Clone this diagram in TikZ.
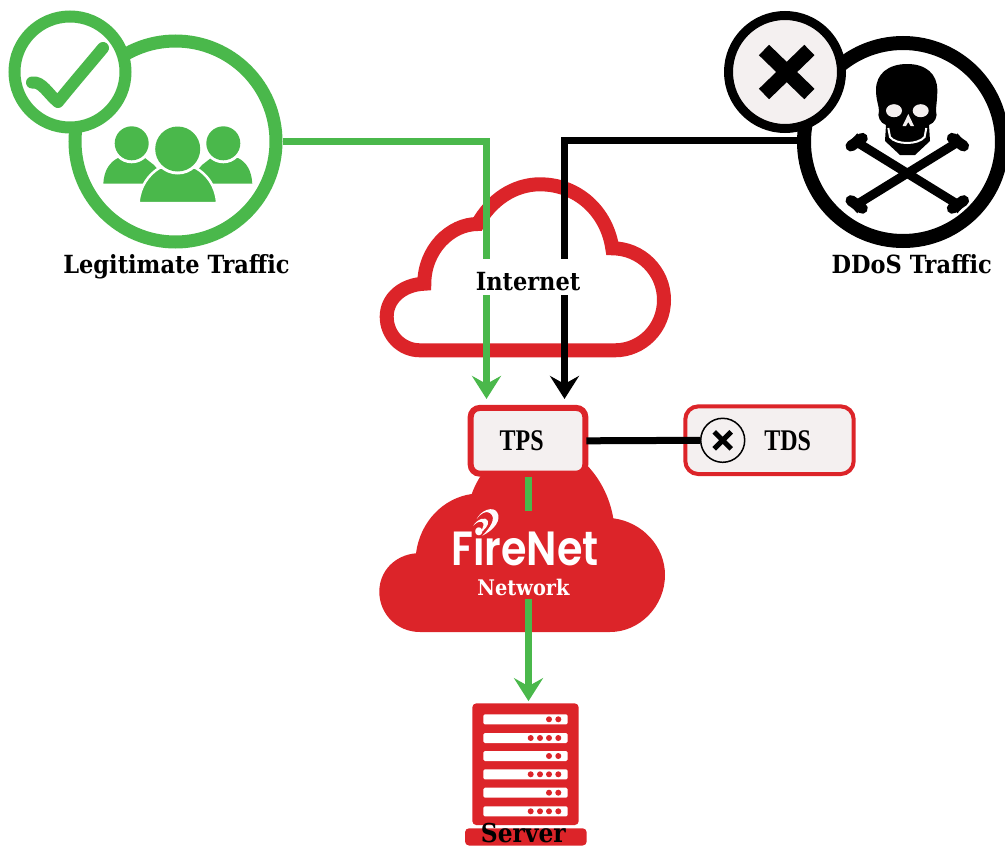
\documentclass[tikz,border=0pt]{standalone}
\usepackage{fontspec}
\usetikzlibrary{arrows.meta,calc}
\newfontfamily\labelfont{DejaVu Serif Condensed}
\newfontfamily\boxfont{Liberation Serif}[FakeStretch=0.8]
\newfontfamily\logofont{Poppins SemiBold}[FakeStretch=0.86]
\definecolor{okgreen}{RGB}{74,184,75}
\definecolor{firered}{RGB}{220,36,41}
\definecolor{paleface}{RGB}{244,240,240}
\tikzset{
  flow/.style={line width=7pt,-{Stealth[length=23pt,width=29pt,inset=8pt]}},
  plainlink/.style={line width=7pt},
  ring/.style={circle,fill=white,inner sep=0pt},
  caption/.style={inner sep=0pt,anchor=base,font=\labelfont\bfseries\fontsize{25}{27}\selectfont,text=black},
  boxcap/.style={inner sep=0pt,anchor=base,font=\boxfont\bfseries\fontsize{30}{31}\selectfont,text=black},
  bar/.style={fill=white,rounded corners=1.5pt},
  dot/.style={fill=firered}
}
\begin{document}
\begin{tikzpicture}[x=1pt,y=-1pt]
\useasboundingbox (0,0) rectangle (1005,846);
\clip (0,0) rectangle (1005,846);
% internet cloud
\draw[firered,line width=14pt,miter limit=10,fill=white]
  (420,350.3) .. controls (401.5,350.3) and (386.7,335.2) .. (386.7,316.7)
  .. controls (386.7,298) and (403,284.5) .. (424.3,283.7)
  .. controls (424.3,250) and (450,224) .. (477.7,224)
  .. controls (491,200) and (514,184.3) .. (540,184.3)
  .. controls (578,184.3) and (607,212) .. (612.3,248.3)
  .. controls (640.6,248.3) and (664,271) .. (664,300)
  .. controls (664,328) and (642,350.3) .. (615,350.3) -- cycle;
% firenet cloud
\fill[firered]
  (420,632) .. controls (397,632) and (379.3,614) .. (379.3,591.7)
  .. controls (379.3,571) and (395,555) .. (416,553.3)
  .. controls (420,522) and (443,498) .. (471.7,494)
  .. controls (482,465) and (510,440) .. (530,440)
  .. controls (572,440) and (606,475) .. (613.3,518.3)
  .. controls (642,522) and (665,546) .. (665,575)
  .. controls (665,606) and (640,632) .. (610,632) -- cycle;
% big rings
\node[ring,draw=okgreen,line width=13pt,minimum size=201pt] (legit) at (175.5,141.5) {};
\node[ring,draw=black,line width=14pt,minimum size=198pt] (ddos) at (903,142) {};
% people
\fill[okgreen] (103.3,183.7) .. controls (104,170) and (110,162) .. (118,158) -- (145,158) -- (154,165) -- (170,183.7) -- cycle;
\fill[white] (131.7,143.3) circle[radius=20];
\fill[okgreen] (131.7,143.3) circle[radius=17];
\fill[okgreen] (252.3,183.7) .. controls (251.6,170) and (246,162) .. (238,158) -- (211,158) -- (202,165) -- (186,183.7) -- cycle;
\fill[white] (223.3,143.3) circle[radius=20];
\fill[okgreen] (223.3,143.3) circle[radius=17];
\filldraw[fill=okgreen,draw=white,line width=2.5pt] (138.7,203) -- (138.7,201.7) .. controls (140,186) and (149,174) .. (160,167.5) -- (195,167.5) .. controls (207,174) and (215.7,186) .. (217,201.7) -- (217,203) -- cycle;
\fill[white] (177.7,149) circle[radius=25.5];
\fill[okgreen] (177.7,149) circle[radius=22.5];
% badges
\node[ring,draw=okgreen,line width=12pt,minimum size=111pt] (okbadge) at (70,72) {};
\draw[okgreen,line width=12pt,line cap=round,line join=round] (32,82.5) .. controls (42,81) and (48,94) .. (58,102) .. controls (70,87) and (88,66) .. (103,48);
\node[ring,draw=black,fill=paleface,line width=9pt,minimum size=113pt] (xbadge) at (785,72) {};
\draw[black,line width=14.6pt] (764,50) -- (809.4,94) (809.4,50) -- (764,94);
% skull
\fill[black] (907.3,64) .. controls (888,64) and (876,74) .. (876,90)
  .. controls (876,100) and (879,106) .. (879,111) .. controls (877,116) and (880,123) .. (886,125)
  -- (885,141) -- (900,155) -- (915,155) -- (930,141) -- (929,125)
  .. controls (935,123) and (938,116) .. (936,111) .. controls (936,106) and (937.3,100) .. (937.3,90)
  .. controls (937.3,74) and (926,64) .. (907.3,64) -- cycle;
\draw[white,line width=2pt] (888.3,128) -- (890,137) .. controls (896,145) and (918,145) .. (924.6,137) -- (926.3,128);
\fill[paleface] (894,110.7) ellipse[x radius=8,y radius=6.5] (920.7,110.7) ellipse[x radius=8,y radius=6.5];
\fill[paleface] (908.3,114) -- (902.5,126) -- (906,126) -- (908.3,122) -- (910.6,126) -- (914,126) -- cycle;
% bones
\draw[black,line width=9pt] (856.6,142) -- (958,204.6) (958,142) -- (856.6,204.6);
\foreach \sx/\sy in {1/1,-1/1,1/-1,-1/-1}{
  \begin{scope}[shift={(907.3,173.3)},xscale=\sx,yscale=\sy]
    \draw[black,line width=11pt,line cap=round] (-45,-35) -- (-56.3,-27.3);
    \fill[black] (-50,-40) -- (-61,-28) -- (-38,-23.4) -- cycle;
  \end{scope}
}
% boxes
\node[draw=firered,fill=paleface,line width=6pt,rounded corners=9pt,minimum width=114.6pt,minimum height=65.7pt,inner sep=0pt] (tps) at (528,440.8) {};
\node[draw=firered,fill=paleface,line width=4pt,rounded corners=13pt,minimum width=168.4pt,minimum height=67.7pt,inner sep=0pt] (tds) at (769.5,440.2) {};
\node[boxcap] (tpslabel) at (521.7,450) {TPS};
\node[boxcap] (tdslabel) at (787.7,450) {TDS};
\node[circle,draw=black,fill=paleface,line width=1.5pt,minimum size=44pt,inner sep=0pt] (tdsmark) at (722.7,440.3) {};
\draw[black,line width=5pt] (714.2,431.8) -- (731.2,448.8) (731.2,431.8) -- (714.2,448.8);
% server
\fill[firered,rounded corners=4pt] (465,828.3) rectangle (586.7,845.5);
\node[fill=firered,rounded corners=4pt,minimum width=106.4pt,minimum height=121.7pt,inner sep=0pt] (server) at (525.5,764.2) {};
\foreach \yy/\nn in {719.3/2,738/4,756/2,774.3/4,792.7/2,811.3/4}{
  \fill[bar] (483.3,\yy-5) rectangle (567.7,\yy+5);
  \fill[dot] (558.3,\yy) circle[radius=3] (549,\yy) circle[radius=3];
  \ifnum\nn=4 \fill[dot] (540,\yy) circle[radius=3] (530.7,\yy) circle[radius=3];\fi
}
% connectors
\draw[flow,okgreen,shorten >=6pt] (legit.east) -| ($(tps.north)+(-41.5,0)$);
\draw[flow,black,shorten >=6pt] ([yshift=1.5pt]ddos.west) -| ($(tps.north)+(36.5,0)$);
\draw[flow,okgreen,shorten >=2pt] ([xshift=.5pt]tps.south) -- ([xshift=.5pt]tps.south |- server.north);
\draw[plainlink,black,shorten <=-2pt] (tps.east) -- (tdsmark.west);
% label masks
\node[fill=white,inner sep=0pt,minimum width=105pt,minimum height=36pt] (internetmask) at (527.5,277) {};
\node[fill=firered,inner sep=0pt,minimum width=150pt,minimum height=88pt] (netmask) at (525,555) {};
% texts
\node[caption] (internet) at (528,290) {Internet};
\node[caption] (legitlabel) at (176.5,273) {Legitimate Traffic};
\node[caption] (ddoslabel) at (911.8,273) {DDoS Traffic};
\node[caption,text=white,font=\labelfont\bfseries\fontsize{21.5}{23}\selectfont] (network) at (523.5,595) {Network};
\node[caption,font=\labelfont\bfseries\fontsize{26}{27}\selectfont] (serverlabel) at (523.3,842) {Server};
\node[inner sep=0pt,anchor=base,text=white,font=\logofont\fontsize{48}{50}\selectfont] (firenet) at (525,565) {FireNet};
% logo swooshes
\fill[white!98!firered] (476.7,519) .. controls (481,510) and (493,506) .. (497,512) .. controls (502,520) and (494,530) .. (482.3,535.7) .. controls (490,528) and (497,518) .. (490,513) .. controls (486,510) and (480,514) .. (476.7,519) -- cycle;
\fill[white!98!firered] (473.3,525.7) .. controls (477,519) and (486,516) .. (488,521) .. controls (489,526) and (484,530) .. (480,533.3) .. controls (483,528) and (485,523) .. (482,522) .. controls (479,521) and (476,523) .. (473.3,525.7) -- cycle;
\end{tikzpicture}
\end{document}
